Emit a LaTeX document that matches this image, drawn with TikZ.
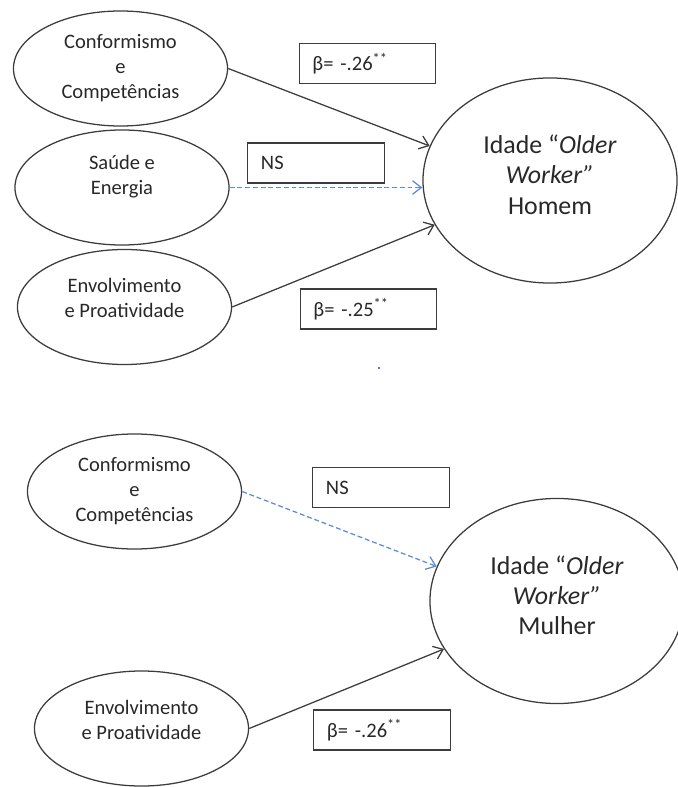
\documentclass[tikz,border=0pt]{standalone}
\usepackage{fontspec}
\setmainfont{Carlito}
\usetikzlibrary{arrows.meta,shapes.geometric}
\definecolor{lineColor}{RGB}{60,60,60}
\definecolor{textColor}{RGB}{40,40,40}
\definecolor{nsColor}{RGB}{95,140,215}
\definecolor{dotColor}{RGB}{60,60,230}
\tikzset{factor/.style={ellipse, draw=lineColor, line width=.9pt, align=center, text=textColor, inner sep=0pt, minimum width=5.35cm, minimum height=2.875cm, font=\fontsize{14.6}{17.8}\selectfont}}
\tikzset{outcome/.style={factor, minimum width=6.35cm, minimum height=5.125cm, font=\fontsize{18.4}{21.5}\selectfont}}
\tikzset{coef/.style={draw=lineColor, line width=.9pt, text=textColor, align=left, text width=2.75cm, inner xsep=.33cm, minimum height=1cm, font=\fontsize{14.6}{17.8}\selectfont}}
\tikzstyle{arrow} = [draw=lineColor, line width=.9pt, -{Straight Barb[length=2.2mm, width=3.4mm]}]
\tikzstyle{nsarrow} = [arrow, draw=nsColor, dash pattern=on 3.5pt off 2pt]

\begin{document}
\begin{tikzpicture}[x=0.025cm, y=-0.025cm]
	\useasboundingbox (0,0) rectangle (677,787);

	% Nodes (Homem)
	\node (confH) [factor] at (120.5,68.5) {Conformismo\\e\\Competências};
	\node (saudeH) [factor] at (122,187.5) {Saúde e\\Energia\\\mbox{}};
	\node (envH) [factor] at (124.5,307) {Envolvimento\\e Proatividade\\[-5pt]\mbox{}};
	\node (homem) [outcome] at (550,180.5) {Idade “\textit{Older}\\\textit{Worker”}\\Homem\\[-13pt]\mbox{}};

	\node (betaConfH) [coef] at (367.5,63.5) {β= -.26\textsuperscript{**}};
	\node (nsSaudeH) [coef] at (316,163) {NS};
	\node (betaEnvH) [coef] at (368.5,309) {β= -.25\textsuperscript{**}};

	% Nodes (Mulher)
	\node (confM) [factor] at (134.5,491.5) {Conformismo\\e\\Competências};
	\node (envM) [factor] at (141.5,728.5) {Envolvimento\\e Proatividade\\[-5pt]\mbox{}};
	\node (mulher) [outcome] at (557,601) {Idade “\textit{Older}\\\textit{Worker”}\\Mulher\\[-13pt]\mbox{}};

	\node (nsConfM) [coef] at (381,487.5) {NS};
	\node (betaEnvM) [coef] at (382,730) {β= -.26\textsuperscript{**}};

	\fill[dotColor] (379,368) circle (1.2);

	% Connectors
	\draw [arrow] (confH.east) -- (homem.164);
	\draw [nsarrow] (saudeH.east) -- (saudeH.east -| homem.west);
	\draw [arrow] (envH.east) -- (homem.201);

	\draw [nsarrow] (confM.east) -- (mulher.164);
	\draw [arrow] (envM.east) -- (mulher.203);

\end{tikzpicture}
\end{document}
